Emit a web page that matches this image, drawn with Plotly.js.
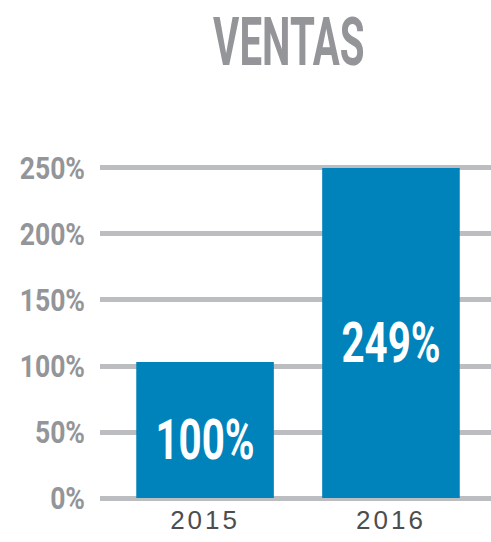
<!DOCTYPE html>
<html>
<head>
<meta charset="utf-8">
<script src="https://cdn.plot.ly/plotly-3.0.1.min.js"></script>
<style>
  html, body { margin: 0; padding: 0; background: #fff; }
  #chart { width: 491px; height: 542px; }
  .xtick text { letter-spacing: 3px; }
</style>
</head>
<body>
<div id="chart"></div>
<script>
// datos
var years = ["2015", "2016"];
var ventas = [103, 250];
var etiquetas = ["100%", "249%"];
var yTicks = [0, 50, 100, 150, 200, 250];
var yTickText = ["0%", "50%", "100%", "150%", "200%", "250%"];

var condFont = "Roboto, Arial, sans-serif";

var trace = {
  x: years,
  y: ventas,
  type: "bar",
  text: etiquetas,
  textposition: "inside",
  insidetextanchor: "middle",
  textangle: 0,
  constraintext: "none",
  textfont: { family: condFont, size: 56, color: "#ffffff", weight: 700 },
  marker: { color: "#0083ba" },
  hoverinfo: "none"
};

var layout = {
  width: 491,
  height: 542,
  margin: { l: 100, r: 0, t: 164, b: 40 },
  paper_bgcolor: "#ffffff",
  plot_bgcolor: "#ffffff",
  showlegend: false,
  bargap: 0.26,
  title: {
    text: "VENTAS",
    font: { family: condFont, size: 66, color: "#939598", weight: 700 },
    x: 0.483,
    xref: "paper",
    y: 0.88,
    yref: "container",
    yanchor: "bottom"
  },
  xaxis: {
    type: "category",
    range: [-0.565, 1.538],
    showgrid: false,
    zeroline: false,
    showline: false,
    ticks: "",
    tickfont: { family: "Liberation Sans, Arial, sans-serif", size: 26, color: "#4d4d4d" }
  },
  yaxis: {
    range: [-3, 253],
    tickvals: yTicks,
    ticktext: yTickText,
    showgrid: true,
    gridcolor: "#bcbdc0",
    gridwidth: 5,
    zeroline: false,
    showline: false,
    ticks: "",
    ticklabelstandoff: 14,
    tickfont: { family: condFont, size: 32, color: "#939598", weight: 700 }
  }
};

// estrechar horizontalmente los textos (letra condensada); dy baja un poco el texto
function condense(sel, s, anchor, dy) {
  document.querySelectorAll(sel).forEach(function (t) {
    var b = t.getBBox();
    var cx = anchor === "end" ? b.x + b.width : b.x + b.width / 2;
    var tr = t.getAttribute("transform") || "";
    t.setAttribute("transform", tr + " translate(" + cx + "," + (dy || 0) + ") scale(" + s + ",1) translate(" + (-cx) + ",0)");
  });
}

Plotly.newPlot("chart", [trace], layout, { displayModeBar: false, staticPlot: true }).then(function () {
  condense(".gtitle", 0.61, "middle");
  condense(".ytick text", 0.83, "end");
  condense("text.bartext", 0.72, "middle", 10);
});
</script>
</body>
</html>
